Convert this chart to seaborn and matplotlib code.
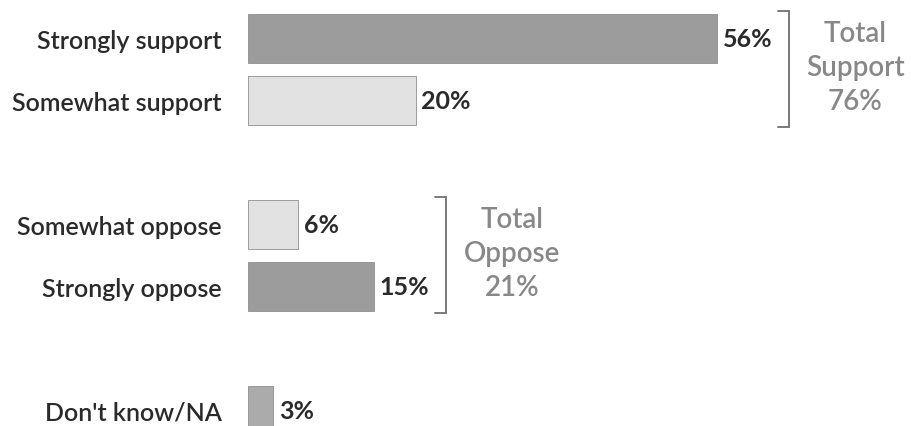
import matplotlib
matplotlib.use("Agg")
import matplotlib.pyplot as plt
import seaborn as sns
import pandas as pd

# survey answers and shares (%)
responses = ["Strongly support", "Somewhat support", "Somewhat oppose", "Strongly oppose", "Don't know/NA"]
shares = [56, 20, 6, 15, 3]
groups = [["Strongly support", "Somewhat support"], ["Somewhat oppose", "Strongly oppose"]]
group_names = ["Support", "Oppose"]

# blank slots give the gaps between groups
order = ["Strongly support", "Somewhat support", "", "Somewhat oppose", "Strongly oppose", " ", "Don't know/NA"]

colors = {
    "Strongly support": "#9c9c9c",
    "Somewhat support": "#e2e2e2",
    "Somewhat oppose": "#e2e2e2",
    "Strongly oppose": "#9c9c9c",
    "Don't know/NA": "#ababab",
}

df = pd.DataFrame({"response": responses, "share": shares})

sns.set_theme(style="white")
plt.rcParams["font.family"] = ["Lato", "DejaVu Sans"]

fig = plt.figure(figsize=(9.11, 4.27), dpi=100)
ax = fig.add_axes([248 / 911, 0, 663 / 911, 1])

sns.barplot(data=df, y="response", x="share", order=order, hue="response",
            palette=colors, width=0.8, edgecolor="#8f8f8f", linewidth=0.6,
            legend=False, ax=ax)

px = 8.375  # pixels per percent
ax.set_xlim(0, 663 / px)
ax.set_ylim(6.25, -0.637)
ax.set_xlabel("")
ax.set_ylabel("")
ax.set_xticks([])
ax.tick_params(axis="y", length=0, pad=19, labelsize=18, labelcolor="#2a2a2a")
for lab in ax.get_yticklabels():
    lab.set_fontweight("semibold")
for s in ax.spines.values():
    s.set_visible(False)

# value labels
for name, v in zip(responses, shares):
    ax.text(v + 0.7, order.index(name), f"{v}%", va="center", ha="left",
            fontsize=18, fontweight="bold", color="#2a2a2a")

# brackets with totals
for members, gname in zip(groups, group_names):
    vals = [shares[responses.index(m)] for m in members]
    rows = [order.index(m) for m in members]
    bx = max(vals) + 8.6
    top = min(rows) - 0.45
    bot = max(rows) + 0.43
    ax.plot([bx - 1.3, bx, bx, bx - 1.3], [top, top, bot, bot],
            color="#7a7a7a", lw=1.4, solid_joinstyle="miter")
    ax.text(bx + 7.9, (top + bot) / 2 - 0.03, f"Total\n{gname}\n{sum(vals)}%",
            ha="center", va="center", fontsize=20, color="#888888",
            fontweight="semibold", linespacing=1.4)

fig.savefig("out.png", dpi=100)
